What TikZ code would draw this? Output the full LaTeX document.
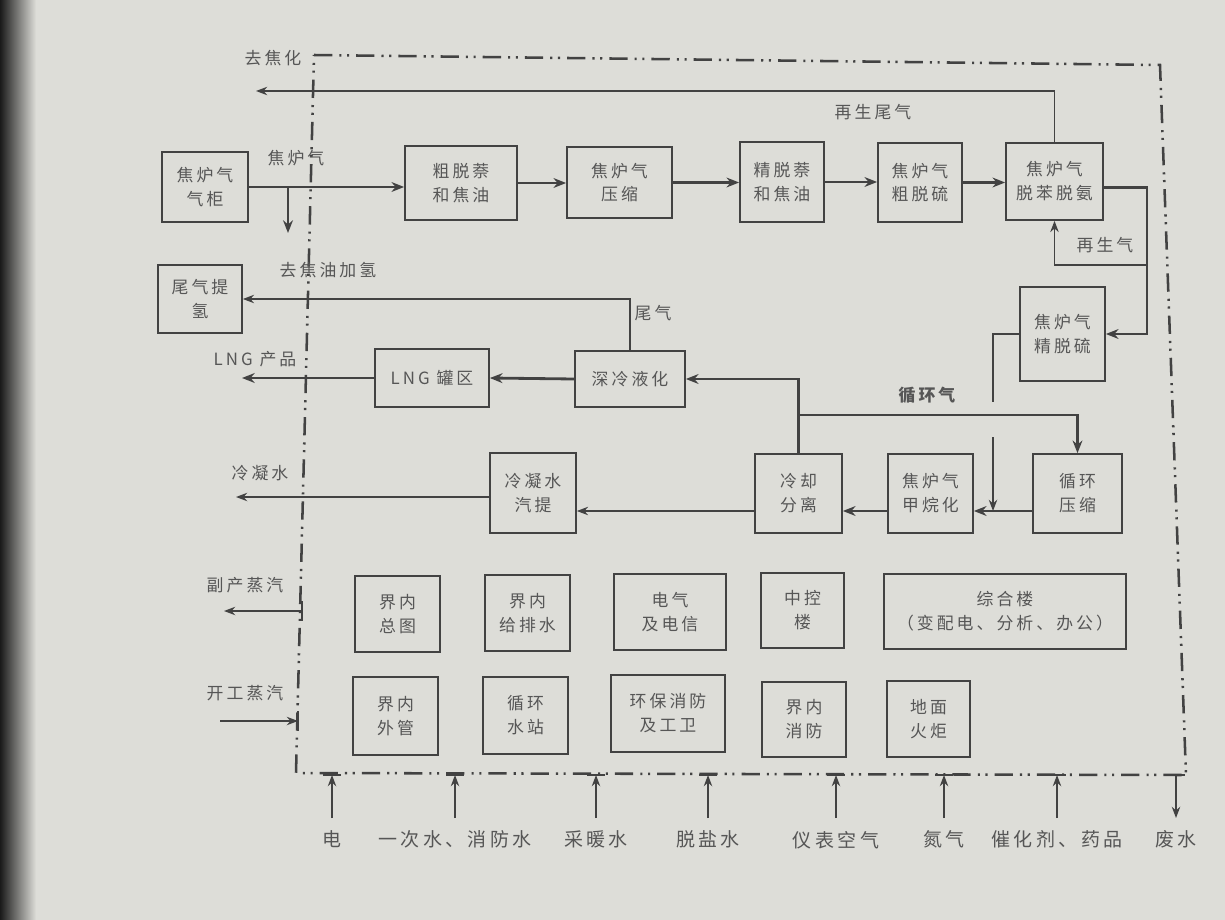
\documentclass[tikz,border=0pt]{standalone}
\usepackage{fontspec}
\setmainfont[LetterSpace=18]{Noto Sans CJK SC}
\usepackage{tikz}
\usetikzlibrary{arrows.meta, positioning, calc}
\definecolor{papel}{RGB}{221,221,216}
\definecolor{tinta}{RGB}{66,66,66}
\definecolor{letra}{RGB}{86,86,86}

\begin{document}
\begin{tikzpicture}[x=0.025cm, y=-0.025cm,
    every node/.style={font=\fontsize{12}{17}\selectfont, text=letra},
    unidad/.style={draw=tinta, line width=1.2pt, align=center, inner sep=1pt,
                   minimum width=2.125cm, minimum height=1.9cm},
    flujo/.style={draw=tinta, line width=1pt, -{Stealth[length=8pt, width=6pt]}},
    flujog/.style={draw=tinta, line width=2pt, -{Stealth[length=9pt, width=7pt]}},
    limite/.style={draw=tinta, line width=1.8pt,
                   dash pattern=on 13pt off 5pt on 1.5pt off 4pt on 1.5pt off 5pt}]

      \fill[papel] (0,0) rectangle (1225,920);
      \useasboundingbox (0,0) rectangle (1225,920);
      \fill[left color=black!90, right color=papel] (0,0) rectangle (36,920);

      \draw[limite] (314,55) -- (1160,65) -- (1186,775) -- (296,773) -- cycle;

      % main line
      \node[unidad, minimum width=2.15cm, minimum height=1.75cm] (gh) at (205,187) {焦炉气\\气柜};
      \node[unidad, minimum width=2.8cm, minimum height=1.85cm] (naph) at (461,183) {粗脱萘\\和焦油};
      \node[unidad, minimum width=2.625cm, minimum height=1.775cm] (comp) at (619.5,182.5) {焦炉气\\压缩};
      \node[unidad, minimum width=2.1cm, minimum height=2cm] (fnaph) at (782,182) {精脱萘\\和焦油};
      \node[unidad, minimum width=2.1cm, minimum height=1.975cm] (rdes) at (920,182.5) {焦炉气\\粗脱硫};
      \node[unidad, minimum width=2.425cm, minimum height=1.925cm] (debz) at (1054.5,181.5) {焦炉气\\脱苯脱氨};
      \node[unidad, minimum width=2.125cm, minimum height=2.35cm] (fdes) at (1062.5,334) {焦炉气\\精脱硫};
      \node[unidad, minimum width=2.1cm, minimum height=1.7cm] (h2) at (200,299) {尾气提\\氢};
      \node[unidad, minimum width=2.75cm, minimum height=1.4cm] (cryo) at (630,379) {深冷液化};
      \node[unidad, minimum width=2.85cm, minimum height=1.45cm] (lng) at (432,378) {LNG 罐区};
      \node[unidad, minimum width=2.15cm, minimum height=2cm] (strip) at (533,493) {冷凝水\\汽提};
      \node[unidad, minimum width=2.175cm, minimum height=1.975cm] (cool) at (798.5,493.5) {冷却\\分离};
      \node[unidad, minimum height=1.975cm] (meth) at (930.5,493.5) {焦炉气\\甲烷化};
      \node[unidad, minimum width=2.225cm, minimum height=1.975cm] (rcomp) at (1077.5,493.5) {循环\\压缩};

      % auxiliary units
      \node[unidad] (plan) at (397.5,614) {界内\\总图};
      \node[unidad] (water) at (527.5,613) {界内\\给排水};
      \node[unidad, minimum width=2.8cm] (elec) at (670,612) {电气\\及电信};
      \node[unidad, minimum width=2.075cm, minimum height=1.875cm] (ctrl) at (802.5,610.5) {中控\\楼};
      \node[unidad, minimum width=6.05cm, minimum height=1.875cm] (office) at (1005,611.5) {综合楼\\（变配电、分析、办公）};
      \node[unidad, minimum height=1.95cm] (pipe) at (395.5,716) {界内\\外管};
      \node[unidad, minimum height=1.925cm] (cwater) at (525.5,715.5) {循环\\水站};
      \node[unidad, minimum width=2.85cm, minimum height=1.925cm] (env) at (668,713.5) {环保消防\\及工卫};
      \node[unidad, minimum width=2.1cm, minimum height=1.875cm] (fire) at (804,719.5) {界内\\消防};
      \node[unidad, minimum width=2.075cm] (flare) at (928.5,719) {地面\\火炬};

      \coordinate (coke) at (256,91);
      \coordinate (tar) at (288,233);
      \coordinate (rloop) at (1147,265);
      \coordinate (jA) at (993,402);
      \coordinate (jB) at (993,437);
      \coordinate (yb) at (0,511);
      \coordinate (rtap) at (798.5,415);
      \coordinate (condout) at (236,497);
      \coordinate (lngout) at (242,378);
      \coordinate (steamout) at (224,611);
      \coordinate (bsteam) at (302,611);
      \coordinate (steamin) at (220,721);
      \coordinate (bstart) at (298,721);

      \draw[flujog] (gh.east) -- (gh.east -| naph.west);
      \draw[flujog] (tar |- gh.east) -- (tar);
      \draw[flujog] (naph.east) -- (naph.east -| comp.west);
      \draw[flujog] (comp.east) -- (comp.east -| fnaph.west);
      \draw[flujog] (fnaph.east) -- (fnaph.east -| rdes.west);
      \draw[flujog] (rdes.east) -- (rdes.east -| debz.west);
      \draw[flujo] (debz.north) |- (coke);
      \draw[flujog] ([yshift=-0.15cm]debz.east) -| (rloop) |- (fdes.east);
      \draw[flujo] (rloop) -| (debz.south);
      \draw[flujog, -] (fdes.west) -| (jA);
      \draw[flujo] (jB) -- (jB |- yb);
      \draw[flujog] (rcomp.west |- yb) -- (meth.east |- yb);
      \draw[flujog] (meth.west |- yb) -- (cool.east |- yb);
      \draw[flujo] (cool.west |- yb) -- (strip.east |- yb);
      \draw[flujo] (strip.west |- condout) -- (condout);
      \draw[flujog] (cool.north) |- (cryo.east);
      \draw[flujog] (rtap) -| (rcomp.north);
      \draw[flujog] (cryo.west) -- (lng.east);
      \draw[flujog] (lng.west) -- (lngout);
      \draw[flujo] (cryo.north) |- (h2.east);
      \draw[flujo] (bsteam) -- (steamout);
      \draw[flujo] (steamin) -- (bstart);
      \draw[tinta, line width=1.8pt] (302,601) -- (302,621);
      \draw[tinta, line width=1.8pt] (298,711) -- (298,731);

      \node (lcoke) at (273,58) {去焦化};
      \node (lregtail) at (873,112) {再生尾气};
      \node (lcog) at (296,158) {焦炉气};
      \node (ltar) at (328,270) {去焦油加氢};
      \node (lreg) at (1105,245) {再生气};
      \node (ltail) at (653,313) {尾气};
      \node (llng) at (255,359) {LNG 产品};
      \node[font=\fontsize{12}{17}\selectfont\bfseries] (lrec) at (927,395) {循环气};
      \node (lcond) at (260,473) {冷凝水};
      \node (lsteam) at (245,585) {副产蒸汽};
      \node (lstart) at (245,693) {开工蒸汽};

      % utilities
      \foreach \x/\txt [count=\i] in {332/电, 455/一次水、消防水, 596/采暖水, 708/脱盐水,
                                      836/仪表空气, 944/氮气, 1057/催化剂、药品} {
        \coordinate (in\i) at (\x,818);
        \coordinate (b\i) at (\x,775);
        \draw[tinta, line width=1.8pt] (\x-9,775) -- (\x+9,775);
        \draw[flujo] (in\i) -- (b\i);
        \node[below=0.2cm of in\i, font=\fontsize{13.5}{17}\selectfont] (u\i) {\txt};
      }
      \coordinate (out8) at (1176,818);
      \coordinate (b8) at (1176,775);
      \draw[tinta, line width=1.8pt] (1167,775) -- (1185,775);
      \draw[flujo] (b8) -- (out8);
      \node[below=0.2cm of out8, font=\fontsize{13.5}{17}\selectfont] (u8) {废水};
    \end{tikzpicture}
\end{document}
